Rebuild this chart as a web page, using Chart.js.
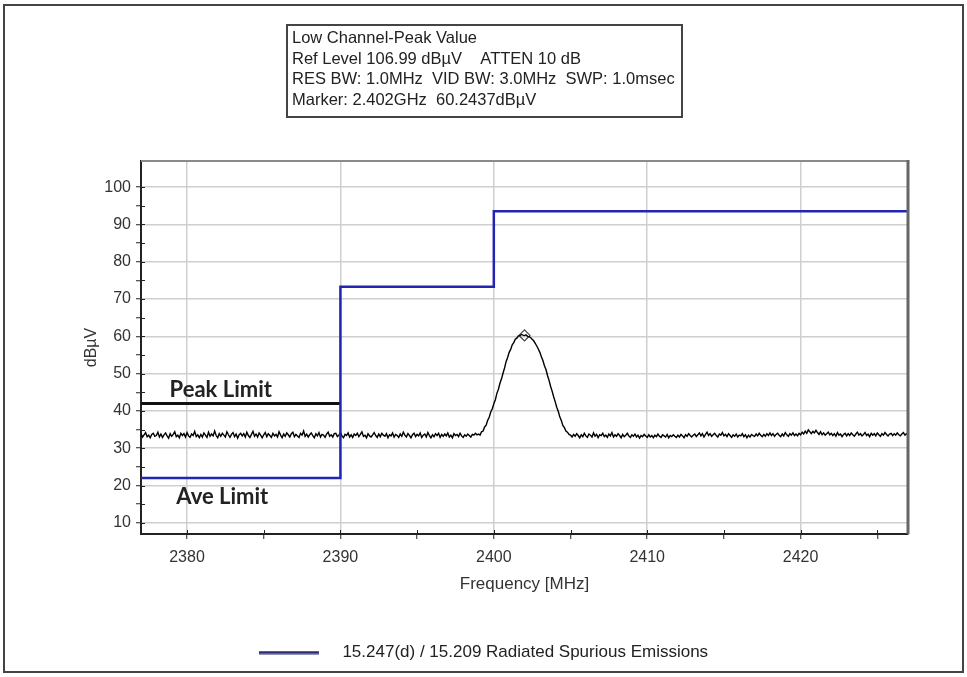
<!DOCTYPE html>
<html>
<head>
<meta charset="utf-8">
<script src="https://cdn.jsdelivr.net/npm/chart.js@4.4.0/dist/chart.umd.min.js"></script>
<style>
html,body{margin:0;padding:0;background:#fff;}
#wrap{width:967px;height:677px;position:relative;}
</style>
</head>
<body>
<div id="wrap"><canvas id="c"></canvas></div>
<script>
// ---- data ----
const infoLines = [
  'Low Channel-Peak Value',
  'Ref Level 106.99 dBµV    ATTEN 10 dB',
  'RES BW: 1.0MHz  VID BW: 3.0MHz  SWP: 1.0msec',
  'Marker: 2.402GHz  60.2437dBµV'
];
const limitLabel = '15.247(d) / 15.209 Radiated Spurious Emissions';
const limitFreq  = [2377, 2390, 2390, 2400, 2400, 2427];
const limitLevel = [22, 22, 73.3, 73.3, 93.5, 93.5];
const peakLimitFreq  = [2377, 2390];
const peakLimitLevel = [42, 42];
const traceStartMHz = 2377;
const traceStepMHz = 0.1;
const traceLevel = [
  33.9,33.0,33.6,34.2,33.1,33.5,32.8,33.7,34.0,33.2,
  33.4,34.3,33.0,33.8,32.9,33.6,34.1,33.3,32.7,33.9,
  33.2,33.7,34.4,33.1,33.5,32.8,34.0,33.4,33.9,33.0,
  34.2,33.3,32.9,33.8,33.4,34.5,33.1,33.6,32.8,33.7,
  33.0,34.1,33.5,32.9,34.3,33.2,33.8,33.3,34.6,33.4,
  32.8,33.9,33.2,34.0,33.5,33.0,34.4,33.6,32.9,33.7,
  34.2,33.1,33.8,32.7,33.6,34.0,33.3,33.9,33.0,34.3,
  33.4,32.9,33.7,34.5,33.2,33.8,33.0,34.1,33.5,32.8,
  33.6,34.2,33.1,33.9,33.4,32.9,34.0,33.3,33.7,33.0,
  34.4,33.5,32.8,33.8,33.2,34.1,33.6,33.0,33.9,34.3,
  33.1,33.7,33.3,32.9,34.0,33.5,34.6,33.2,33.8,33.0,
  33.6,34.1,33.4,32.8,33.9,33.3,34.2,33.0,33.7,33.5,
  32.9,33.8,34.3,33.2,33.6,33.0,33.9,34.0,33.1,33.5,
  34.2,33.3,32.8,33.7,33.4,34.1,33.0,33.6,32.9,33.8,
  33.4,34.0,33.1,33.7,34.4,33.2,33.5,32.8,33.9,33.3,
  33.0,33.6,34.2,33.4,32.9,33.8,33.1,34.0,33.5,33.2,
  33.9,32.8,33.6,33.3,34.1,33.0,33.7,33.4,32.9,33.8,
  33.2,34.3,33.5,33.0,33.9,33.4,32.8,33.6,34.0,33.1,
  33.7,33.3,34.1,32.9,33.5,33.8,33.0,34.2,33.4,32.8,
  33.6,33.1,33.9,33.4,34.0,32.9,33.7,33.2,33.8,33.3,
  34.1,33.0,33.5,32.8,33.9,33.4,33.7,33.1,34.0,33.3,
  32.9,33.6,33.2,33.8,33.4,33.0,33.7,33.5,34.0,33.6,
  33.8,33.5,34.4,34.6,35.7,36.2,37.5,38.3,39.7,40.6,
  41.9,43.0,44.7,45.8,47.4,48.6,50.1,51.5,53.2,54.3,
  55.7,56.5,57.7,58.3,59.2,59.5,60.1,60.2,60.5,60.3,
  60.2,60.4,60.0,59.9,59.6,59.2,58.8,58.1,57.4,56.6,
  55.7,54.5,53.5,52.1,51.1,49.5,48.2,46.6,45.3,43.8,
  42.5,41.0,39.9,38.4,37.4,36.1,35.5,34.6,34.3,33.7,
  33.5,
  33.0,33.7,33.2,33.9,33.4,32.8,33.6,33.1,34.0,33.3,
  32.9,33.8,33.5,33.0,34.1,33.2,33.7,32.8,33.6,33.4,
  34.0,33.1,33.5,32.9,33.8,33.3,34.2,33.0,33.6,33.2,
  33.9,33.4,32.8,33.7,33.1,33.5,34.0,33.3,32.9,33.6,
  33.2,33.8,33.0,33.5,32.7,33.4,33.1,33.7,33.3,32.9,
  33.6,33.0,33.4,32.8,33.5,33.1,33.8,33.2,32.9,33.6,
  33.3,33.0,33.7,32.8,33.4,33.1,33.6,33.2,32.9,33.5,
  33.0,33.7,33.3,32.8,33.6,33.2,33.9,33.4,33.0,33.5,
  33.8,33.1,33.6,34.1,33.3,33.9,33.0,33.7,34.3,33.4,
  33.9,33.2,33.6,34.0,33.4,33.0,33.8,33.5,34.2,33.3,
  33.7,33.1,33.9,33.4,32.9,33.6,33.2,33.8,33.0,33.5,
  33.3,33.9,33.1,33.6,32.8,33.5,33.0,33.7,33.4,33.2,
  33.8,33.3,34.0,33.5,33.1,33.7,33.2,33.9,33.4,34.1,
  33.4,33.9,33.2,33.7,34.0,33.5,33.1,33.8,33.3,34.2,
  33.6,33.2,33.9,33.5,34.1,33.4,33.8,33.3,34.0,33.6,
  34.3,33.8,34.6,34.0,34.9,34.4,33.9,34.5,34.1,34.8,
  34.2,33.7,34.4,33.6,34.1,33.5,33.9,34.3,33.6,34.0,
  33.4,33.9,33.2,34.2,33.5,33.8,33.1,33.7,34.0,33.3,
  33.9,33.4,34.1,33.6,33.2,33.8,34.3,33.5,33.9,33.3,
  33.7,34.2,33.4,33.8,33.1,34.0,33.5,33.9,33.3,34.1,
  33.6,33.2,33.9,33.5,34.2,33.7,33.3,33.8,34.0,33.4,
  33.9,33.5,34.1,33.6,33.3,33.8,34.2,33.5,33.9,33.7
];
const markerFreq  = [2402];
const markerLevel = [60.2437];
const xTickValues = [2380, 2385, 2390, 2395, 2400, 2405, 2410, 2415, 2420, 2425];
const xTickLabels = [2380, 2390, 2400, 2410, 2420];
const yTickValues = [10, 15, 20, 25, 30, 35, 40, 45, 50, 55, 60, 65, 70, 75, 80, 85, 90, 95, 100];
const yTickLabels = [10, 20, 30, 40, 50, 60, 70, 80, 90, 100];
const annotText  = ['Peak Limit', 'Ave Limit'];
const annotFreq  = [2382.2, 2382.3];
const annotLevel = [45.6, 16.9];

// ---- styling ----
const FONT = "'Liberation Sans', Arial, sans-serif";
const BLUE = '#2424b2';
const LEGEND_BLUE = '#2b2b72';

const swatch = document.createElement('canvas');
swatch.width = 75; swatch.height = 4;
{ const g = swatch.getContext('2d'); g.fillStyle = LEGEND_BLUE; g.fillRect(0, 0.5, 60, 3); }

const tracePoints = traceLevel.map((v, i) => ({x: traceStartMHz + i * traceStepMHz, y: v}));

const decorPlugin = {
  id: 'decor',
  afterDraw(chart) {
    const {ctx, chartArea: a, scales: {x, y}} = chart;
    ctx.save();
    // plot top and right border
    ctx.strokeStyle = '#8a8a8a'; ctx.lineWidth = 2;
    ctx.beginPath(); ctx.moveTo(a.left, a.top); ctx.lineTo(a.right, a.top); ctx.stroke();
    ctx.strokeStyle = '#666'; ctx.lineWidth = 3;
    ctx.beginPath(); ctx.moveTo(a.right, a.top - 1); ctx.lineTo(a.right, a.bottom); ctx.stroke();
    // inner parts of tick marks
    ctx.strokeStyle = '#222'; ctx.lineWidth = 1;
    ctx.beginPath();
    yTickValues.forEach(v => { const py = Math.round(y.getPixelForValue(v)) + 0.5; ctx.moveTo(a.left, py); ctx.lineTo(a.left + 4, py); });
    xTickValues.forEach(v => { const px = Math.round(x.getPixelForValue(v)) + 0.5; ctx.moveTo(px, a.bottom); ctx.lineTo(px, a.bottom - 4); });
    ctx.stroke();
    // annotations
    ctx.fillStyle = '#222';
    ctx.font = "bold 22px Lato, 'Open Sans', sans-serif";
    ctx.textAlign = 'center'; ctx.textBaseline = 'middle';
    annotText.forEach((t, i) => ctx.fillText(t, x.getPixelForValue(annotFreq[i]), y.getPixelForValue(annotLevel[i])));
    // info box
    ctx.fillStyle = '#fff';
    ctx.fillRect(287, 25, 395, 92);
    ctx.strokeStyle = '#444'; ctx.lineWidth = 2;
    ctx.strokeRect(287, 25, 395, 92);
    ctx.fillStyle = '#222';
    ctx.font = '16.5px ' + FONT;
    ctx.textAlign = 'left'; ctx.textBaseline = 'middle';
    infoLines.forEach((t, i) => ctx.fillText(t, 292, 38.5 + i * 20.7));
    // outer frame
    ctx.strokeStyle = '#444'; ctx.lineWidth = 2;
    ctx.strokeRect(4, 5, 959, 667);
    ctx.restore();
  }
};

new Chart(document.getElementById('c'), {
  type: 'line',
  data: {
    datasets: [
      {
        label: limitLabel,
        data: limitFreq.map((f, i) => ({x: f, y: limitLevel[i]})),
        borderColor: BLUE, borderWidth: 2.5, pointRadius: 0, fill: false, tension: 0
      },
      {
        label: 'Peak Limit',
        data: peakLimitFreq.map((f, i) => ({x: f, y: peakLimitLevel[i]})),
        borderColor: '#111', borderWidth: 3, pointRadius: 0, fill: false
      },
      {
        label: 'Trace',
        data: tracePoints,
        borderColor: '#000', borderWidth: 1.4, pointRadius: 0, fill: false, tension: 0
      },
      {
        label: 'Marker',
        data: markerFreq.map((f, i) => ({x: f, y: markerLevel[i]})),
        showLine: false, pointStyle: 'rectRot', pointRadius: 5.5,
        borderColor: '#444', borderWidth: 1.2, backgroundColor: 'rgba(0,0,0,0)'
      }
    ]
  },
  options: {
    responsive: true, maintainAspectRatio: false, animation: false,
    layout: {padding: {left: 0, right: 0, top: 161, bottom: 6}},
    plugins: {
      tooltip: {enabled: false},
      legend: {
        position: 'bottom',
        labels: {
          filter: item => item.datasetIndex === 0,
          usePointStyle: true, pointStyle: swatch, pointStyleWidth: 75,
          color: '#222', font: {family: FONT, size: 17}, padding: 10
        }
      }
    },
    scales: {
      x: {
        type: 'linear', min: 2377, max: 2427,
        afterBuildTicks: s => { s.ticks = xTickValues.map(v => ({value: v})); },
        afterFit: s => { s.height = 100; },
        ticks: {
          callback: v => xTickLabels.includes(v) ? String(v) : '',
          autoSkip: false, maxRotation: 0, color: '#333', padding: 9,
          font: {family: FONT, size: 16}
        },
        grid: {
          color: c => (c.tick && xTickLabels.includes(c.tick.value)) ? '#cfcfcf' : 'rgba(0,0,0,0)',
          lineWidth: 1.5, tickColor: '#222', tickLength: 5, tickWidth: 1
        },
        border: {color: '#222', width: 2},
        title: {display: true, text: 'Frequency [MHz]', color: '#333', font: {family: FONT, size: 17}, padding: {top: 0, bottom: 39}}
      },
      y: {
        type: 'linear', min: 7, max: 107,
        afterBuildTicks: s => { s.ticks = yTickValues.map(v => ({value: v})); },
        afterFit: s => { s.width = 141; },
        ticks: {
          callback: v => yTickLabels.includes(v) ? String(v) : '',
          autoSkip: false, color: '#333', padding: 5,
          font: {family: FONT, size: 16}
        },
        grid: {
          color: c => (c.tick && yTickLabels.includes(c.tick.value)) ? '#cfcfcf' : 'rgba(0,0,0,0)',
          lineWidth: 1.5, tickColor: '#222', tickLength: 5, tickWidth: 1
        },
        border: {color: '#222', width: 2},
        title: {display: true, text: 'dBµV', color: '#333', font: {family: FONT, size: 16}, padding: {top: 82, bottom: 0}}
      },
      yRight: {
        type: 'linear', position: 'right', display: true,
        afterFit: s => { s.width = 59; },
        ticks: {display: false}, grid: {display: false}, border: {display: false}
      }
    }
  },
  plugins: [decorPlugin]
});
</script>
</body>
</html>
